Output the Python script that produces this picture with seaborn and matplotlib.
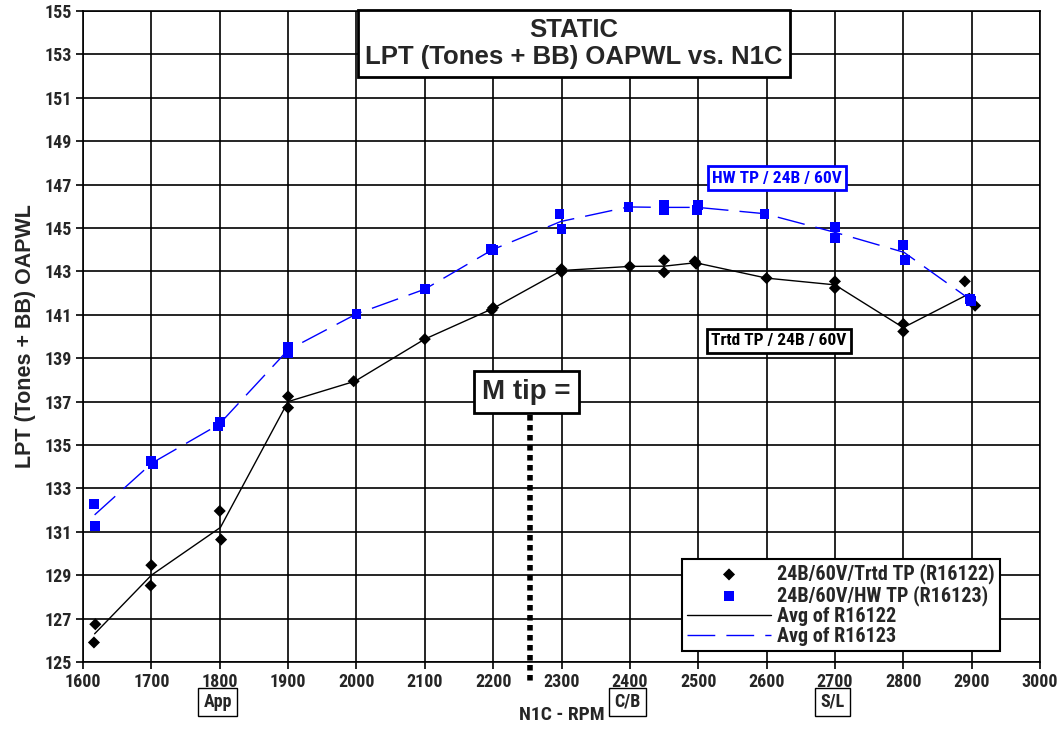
import matplotlib
matplotlib.use("Agg")
import matplotlib.pyplot as plt
import matplotlib.transforms as mtransforms
from matplotlib import font_manager
from matplotlib.font_manager import FontProperties
import seaborn as sns
import pandas as pd

# ---------------- data ----------------
trtd_rpm = [1616, 1618, 1700, 1699, 1800, 1802, 1900, 1900, 1996, 2100, 2200, 2198,
            2300, 2300, 2400, 2450, 2450, 2495, 2497, 2600, 2700, 2700, 2800, 2800, 2890, 2905]
trtd_val = [125.9, 126.74, 129.46, 128.52, 131.96, 130.64, 137.24, 136.72, 137.94, 139.88,
            141.33, 141.22, 143.11, 142.98, 143.23, 143.51, 142.96, 143.46, 143.35, 142.69,
            142.54, 142.23, 140.58, 140.23, 142.54, 141.42]

hw_rpm = [1616, 1618, 1700, 1702, 1800, 1798, 1900, 1900, 2000, 2100, 2197, 2200,
          2297, 2300, 2398, 2450, 2450, 2500, 2498, 2597, 2700, 2700, 2800, 2802, 2897, 2899]
hw_val = [132.28, 131.28, 134.25, 134.1, 136.05, 135.85, 139.54, 139.23, 141.04, 142.18,
          144.03, 143.97, 145.66, 144.95, 145.97, 146.07, 145.84, 146.07, 145.84, 145.66,
          145.05, 144.54, 144.23, 143.54, 141.72, 141.65]

avg_trtd_rpm = [1617, 1700, 1801, 1900, 1998, 2100, 2199, 2300, 2400, 2450, 2496, 2600, 2700, 2800, 2897]
avg_trtd_val = [126.3, 129.0, 131.2, 137.0, 137.94, 139.88, 141.28, 143.04, 143.23, 143.24, 143.4,
                142.69, 142.38, 140.41, 141.98]

avg_hw_rpm = [1617, 1701, 1799, 1900, 2000, 2100, 2199, 2299, 2398, 2450, 2499, 2597, 2700, 2801, 2898]
avg_hw_val = [131.78, 134.17, 135.95, 139.38, 141.04, 142.18, 144.0, 145.3, 145.97, 145.95, 145.95,
              145.66, 144.8, 143.88, 141.7]

x_ticks = list(range(1600, 3001, 100))
y_ticks = list(range(125, 156, 2))

legend_labels = ["24B/60V/Trtd TP (R16122)", "24B/60V/HW TP (R16123)",
                 "Avg of R16122", "Avg of R16123"]
title_text = "STATIC\nLPT (Tones + BB) OAPWL vs. N1C"
x_label = "N1C - RPM"
y_label = "LPT (Tones + BB) OAPWL"
phase_labels = ["App", "C/B", "S/L"]
phase_rpm = [1800, 2400, 2700]
mtip_rpm = 2254

# ---------------- style ----------------
sns.set_theme(style="white")
names = {f.name for f in font_manager.fontManager.ttflist}

# try to find a condensed bold sans for the narrow labels
narrow_props = None
for fam in ["Liberation Sans Narrow", "Roboto Condensed", "Open Sans Condensed", "DejaVu Sans"]:
    if fam in names or fam == "DejaVu Sans":
        fp = FontProperties(family=fam, weight="bold", stretch="condensed")
        try:
            path = font_manager.findfont(fp, fallback_to_default=False)
        except Exception:
            continue
        low = path.lower()
        if "narrow" in low or "condensed" in low:
            narrow_props = (fam, "condensed")
            break
if narrow_props is None:
    narrow_fam, narrow_stretch, tick_size, leg_size, lab_size = "Liberation Sans", "normal", 11.5, 13.5, 11
else:
    narrow_fam, narrow_stretch, tick_size, leg_size, lab_size = narrow_props[0], "condensed", 13, 14.5, 12.5

plt.rcParams['font.family'] = ["Liberation Sans", "DejaVu Sans"]
plt.rcParams['font.weight'] = 'bold'

BLUE = "#0000FF"

fig = plt.figure(figsize=(10.58, 7.29), dpi=100)
ax = fig.add_axes([83/1058, 1-662/729, (1040-83)/1058, (662-11)/729])

df_t = pd.DataFrame({"rpm": trtd_rpm, "val": trtd_val})
df_h = pd.DataFrame({"rpm": hw_rpm, "val": hw_val})
df_at = pd.DataFrame({"rpm": avg_trtd_rpm, "val": avg_trtd_val})
df_ah = pd.DataFrame({"rpm": avg_hw_rpm, "val": avg_hw_val})

sns.lineplot(data=df_at, x="rpm", y="val", ax=ax, color="black", lw=1.0,
             estimator=None, sort=False, label=legend_labels[2], zorder=3)
sns.lineplot(data=df_ah, x="rpm", y="val", ax=ax, color=BLUE, lw=1.0,
             estimator=None, sort=False, label=legend_labels[3], zorder=3)
ax.lines[-1].set_dashes([20, 8])
sns.scatterplot(data=df_t, x="rpm", y="val", ax=ax, color="black", marker="D", s=38,
                edgecolor="none", label=legend_labels[0], zorder=4)
sns.scatterplot(data=df_h, x="rpm", y="val", ax=ax, color=BLUE, marker="s", s=50,
                edgecolor="none", label=legend_labels[1], zorder=4)

ax.set_xlim(1600, 3000)
ax.set_ylim(125, 155)
ax.set_xticks(x_ticks)
ax.set_yticks(y_ticks)
ax.grid(True, color="black", lw=1.2)
ax.set_axisbelow(True)
for sp in ax.spines.values():
    sp.set_color("black")
    sp.set_linewidth(1.2)
ax.tick_params(axis="both", direction="out", length=5, width=1.2, color="black",
               pad=3, bottom=True, left=True)
for lab in ax.get_xticklabels() + ax.get_yticklabels():
    lab.set_fontfamily([narrow_fam, "DejaVu Sans"])
    lab.set_fontstretch(narrow_stretch)
    lab.set_fontweight("bold")
    lab.set_fontsize(tick_size)

ax.set_xlabel(x_label, fontsize=14, fontweight="bold", family=[narrow_fam, "DejaVu Sans"],
              fontstretch=narrow_stretch, labelpad=11)
ax.set_ylabel(y_label, fontsize=15.5, fontweight="bold", labelpad=6)

# legend
h, l = ax.get_legend_handles_labels()
order = [l.index(t) for t in legend_labels]
leg = ax.legend([h[i] for i in order], [l[i] for i in order], loc="lower right",
                bbox_to_anchor=((1000 - 83) / (1040 - 83), (662 - 651) / 651),
                bbox_transform=ax.transAxes,
                frameon=True, fancybox=False, edgecolor="black", framealpha=1,
                prop=FontProperties(family=[narrow_fam, "DejaVu Sans"], weight="bold",
                                    size=leg_size, stretch=narrow_stretch),
                handlelength=4.2, borderpad=0.25, labelspacing=0.05, handletextpad=0.3,
                borderaxespad=0)
leg.get_frame().set_linewidth(1.5)

# title box
fig.text(574/1058, 1 - 43.5/729, title_text, ha="center", va="center", fontsize=18.5,
         fontweight="bold", linespacing=1.2,
         bbox=dict(boxstyle="square,pad=0.3", fc="white", ec="black", lw=2.0))

# series labels
ax.text(2615, 147.3, "HW TP / 24B / 60V", color=BLUE, fontsize=lab_size, fontweight="bold",
        ha="center", va="center", family=[narrow_fam, "DejaVu Sans"], fontstretch=narrow_stretch,
        bbox=dict(boxstyle="square,pad=0.25", fc="white", ec=BLUE, lw=2.0), zorder=6)
ax.text(2618, 139.8, "Trtd TP / 24B / 60V", color="black", fontsize=lab_size, fontweight="bold",
        ha="center", va="center", family=[narrow_fam, "DejaVu Sans"], fontstretch=narrow_stretch,
        bbox=dict(boxstyle="square,pad=0.25", fc="white", ec="black", lw=2.0), zorder=6)

# M tip
trans_xa = mtransforms.blended_transform_factory(ax.transData, ax.transAxes)
ax.plot([mtip_rpm, mtip_rpm], [136.4, (662 - 681) / 21.7 + 125], color="black", lw=4,
        linestyle=(0, (1, 0.8)), clip_on=False, zorder=5)
ax.text(2249, 137.45, "M tip =", fontsize=20, fontweight="bold", ha="center", va="center",
        bbox=dict(boxstyle="square,pad=0.3", fc="white", ec="black", lw=2.0), zorder=6)

# phase markers below axis
for lab, r in zip(phase_labels, phase_rpm):
    ax.text(r - 3, -(702 - 662) / 651, lab, transform=trans_xa, fontsize=13, fontweight="bold",
            ha="center", va="center", family=[narrow_fam, "DejaVu Sans"], fontstretch=narrow_stretch,
            bbox=dict(boxstyle="square,pad=0.3", fc="white", ec="black", lw=1.0), clip_on=False)

fig.savefig("out.png", dpi=100)
